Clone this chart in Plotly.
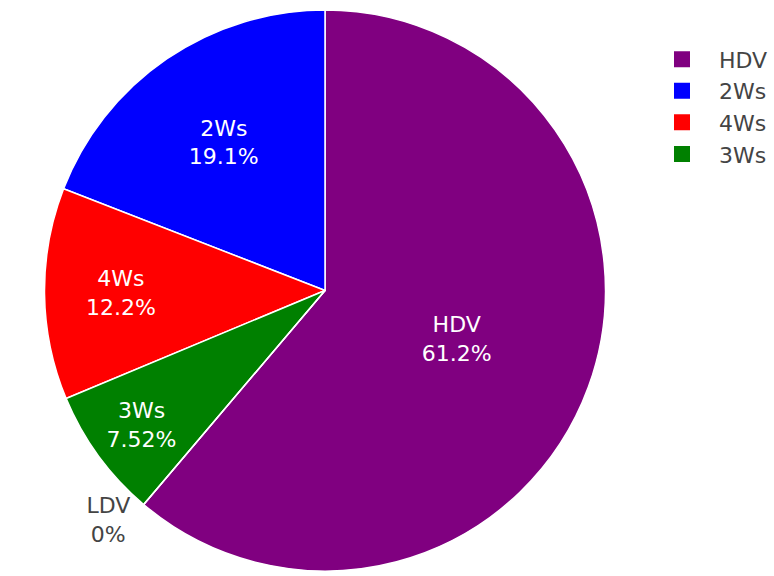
import plotly.graph_objects as go

# Vehicle category shares
categories = ["HDV", "2Ws", "4Ws", "3Ws", "LDV"]
shares = [61.2, 19.1, 12.2, 7.52, 0.0]
slice_colors = ["#800080", "#0000FF", "#FF0000", "#008000", "#FFA500"]

# Categories listed in the legend (the empty LDV slice is left out)
legend_categories = categories[:4]
legend_colors = slice_colors[:4]

W, H = 774, 576
top_margin = 10
plot_h = H - top_margin
radius = plot_h / 2
cx = 325

fig = go.Figure()

# Main pie
fig.add_trace(
    go.Pie(
        labels=categories,
        values=shares,
        textinfo="label+percent",
        sort=True,
        marker=dict(colors=slice_colors, line=dict(color="white", width=1.5)),
        insidetextfont=dict(color="white"),
        outsidetextfont=dict(color="#444"),
        domain=dict(x=[(cx - radius) / W, (cx + radius) / W], y=[0, 1]),
        showlegend=False,
    )
)

# Legend entries: square swatches with no plotted points
for name, color in zip(legend_categories, legend_colors):
    fig.add_trace(
        go.Scatter(
            x=[None],
            y=[None],
            mode="markers",
            name=name,
            marker=dict(symbol="square", size=16, color=color),
            hoverinfo="skip",
        )
    )

fig.update_layout(
    width=W,
    height=H,
    margin=dict(l=0, r=0, t=top_margin, b=0),
    font=dict(family="DejaVu Sans, Verdana, sans-serif", size=22, color="#444"),
    paper_bgcolor="white",
    plot_bgcolor="rgba(0,0,0,0)",
    xaxis=dict(visible=False),
    yaxis=dict(visible=False),
    legend=dict(
        x=645 / W, y=1 - 28.6 / plot_h, xanchor="left", yanchor="top",
        itemwidth=64, itemsizing="trace",
    ),
)

fig.write_html("out.html")
